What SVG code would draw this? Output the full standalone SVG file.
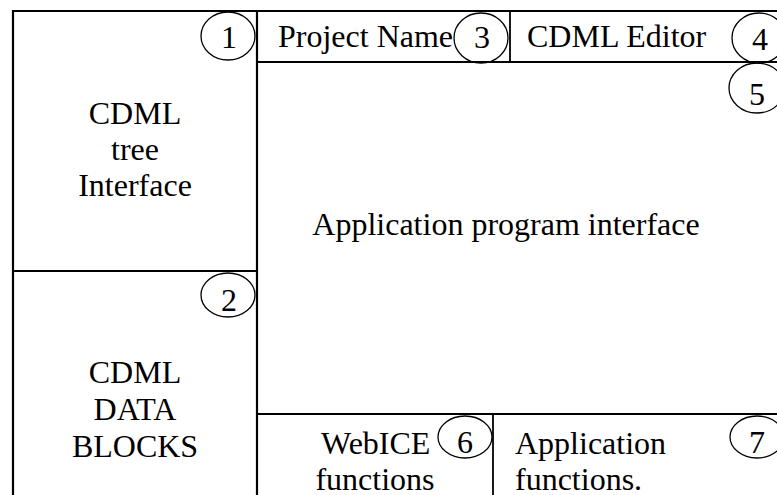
<svg xmlns="http://www.w3.org/2000/svg" width="777" height="495" viewBox="0 0 777 495">
  <style>
    .frame { fill: none; stroke: #000; stroke-width: 2.2; }
    .rule { fill: none; stroke: #000; stroke-width: 1.8; }
    .badge { fill: none; stroke: #000; stroke-width: 1.3; }
    text { font-family: "Liberation Serif", "Times New Roman", serif; font-size: 32px; fill: #000; }
    .c { text-anchor: middle; }
  </style>
  <rect width="777" height="495" fill="#fff"/>

  <!-- panel borders and dividers -->
  <g id="connectors">
    <path class="frame" d="M13,510 V11 H790"/>
    <line class="frame" x1="257" y1="11" x2="257" y2="510"/>
    <line class="rule" x1="13" y1="271" x2="257" y2="271"/>
    <line class="rule" x1="257" y1="62" x2="790" y2="62"/>
    <line class="rule" x1="510" y1="11" x2="510" y2="62"/>
    <line class="rule" x1="257" y1="414" x2="790" y2="414"/>
    <line class="rule" x1="493" y1="414" x2="493" y2="510"/>
  </g>

  <g id="tree-interface">
    <text class="c" x="135" y="124">CDML</text>
    <text class="c" x="135" y="160">tree</text>
    <text class="c" x="135" y="196">Interface</text>
    <ellipse class="badge" cx="228" cy="36" rx="27" ry="24"/>
    <text class="c" x="229" y="48">1</text>
  </g>

  <g id="data-blocks">
    <text class="c" x="135" y="383">CDML</text>
    <text class="c" x="135" y="420">DATA</text>
    <text class="c" x="135" y="457">BLOCKS</text>
    <ellipse class="badge" cx="228" cy="295" rx="27" ry="22"/>
    <text class="c" x="229" y="311">2</text>
  </g>

  <g id="project-name">
    <text x="278" y="47">Project Name</text>
    <ellipse class="badge" cx="481" cy="38" rx="27" ry="25"/>
    <text class="c" x="482" y="48">3</text>
  </g>

  <g id="cdml-editor">
    <text x="527" y="47">CDML Editor</text>
    <ellipse class="badge" cx="759" cy="38" rx="27" ry="25"/>
    <text class="c" x="760" y="50">4</text>
  </g>

  <g id="api">
    <text class="c" x="506" y="235">Application program interface</text>
    <ellipse class="badge" cx="757" cy="88" rx="28" ry="25"/>
    <text class="c" x="757" y="105">5</text>
  </g>

  <g id="webice-functions">
    <text x="321" y="454">WebICE</text>
    <text class="c" x="375" y="490">functions</text>
    <ellipse class="badge" cx="465" cy="437" rx="27" ry="21"/>
    <text class="c" x="465" y="453">6</text>
  </g>

  <g id="application-functions">
    <text x="515" y="454">Application</text>
    <text x="515" y="490">functions.</text>
    <ellipse class="badge" cx="757" cy="437" rx="27" ry="21"/>
    <text class="c" x="757" y="453">7</text>
  </g>
</svg>
